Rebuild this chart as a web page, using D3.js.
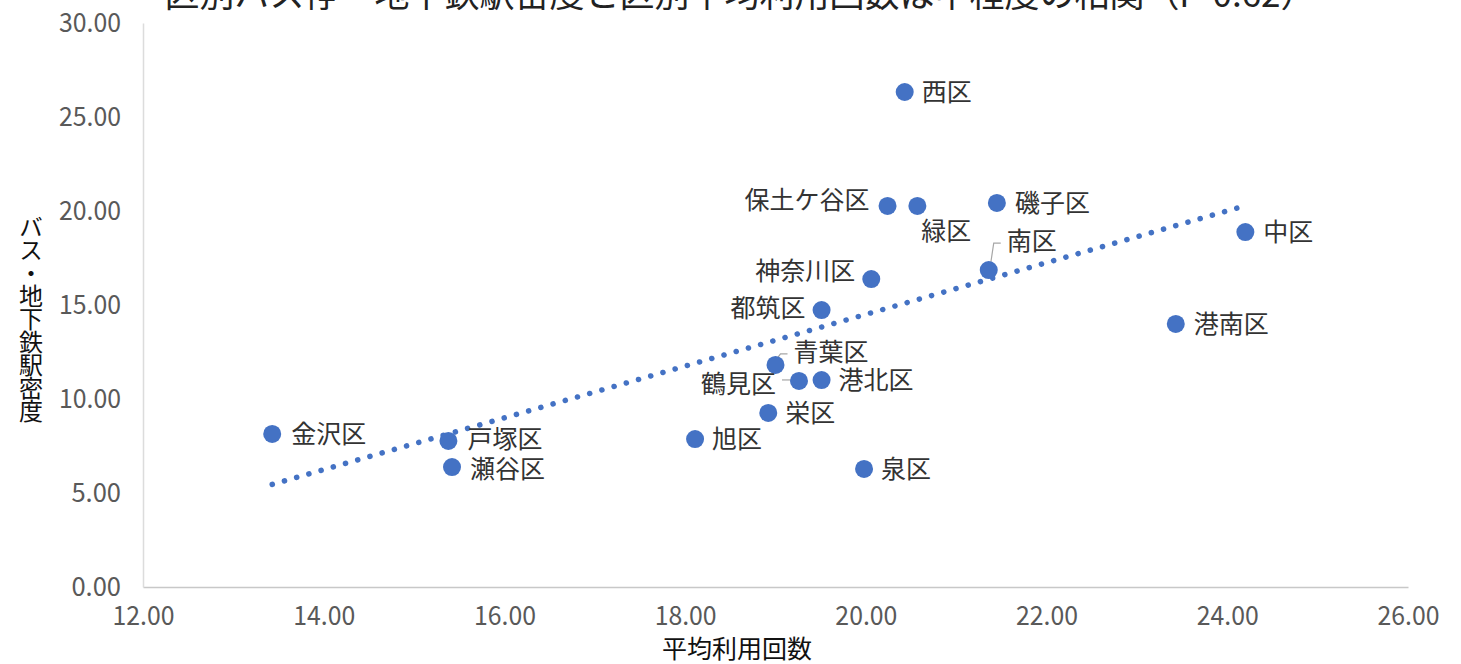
<!DOCTYPE html>
<html>
<head>
<meta charset="utf-8">
<script src="https://cdn.jsdelivr.net/npm/d3@7"></script>
<style>
  body { margin: 0; background: #fff; }
  text { font-family: "Noto Sans CJK JP", sans-serif; }
</style>
</head>
<body>
<div id="chart"></div>
<script>
// data
const districts = ["金沢区", "戸塚区", "瀬谷区", "旭区", "栄区", "鶴見区", "港北区", "青葉区", "都筑区",
  "神奈川区", "泉区", "保土ケ谷区", "緑区", "西区", "磯子区", "南区", "港南区", "中区"]
const avgUsage = [13.43, 15.38, 15.42, 18.11, 18.92, 19.26, 19.51, 19.00, 19.51,
  20.06, 19.98, 20.24, 20.57, 20.43, 21.45, 21.36, 23.43, 24.20]
const density = [8.14, 7.77, 6.38, 7.87, 9.26, 10.96, 11.01, 11.81, 14.73,
  16.38, 6.28, 20.27, 20.27, 26.33, 20.43, 16.86, 13.99, 18.88]
const xTicks = [12, 14, 16, 18, 20, 22, 24, 26]
const yTicks = [0, 5, 10, 15, 20, 25, 30]
const title = "区別バス停・地下鉄駅密度と区別平均利用回数は中程度の相関（r=0.62）"

// label placement (dx, dy, anchor, leader)
const labelPos = {
  "西区": [17, 0, "start"], "保土ケ谷区": [-18, -6, "end"], "緑区": [4, 25, "start"],
  "磯子区": [18, 0, "start"], "南区": [18, -29, "start", true], "中区": [18, 0, "start"],
  "神奈川区": [-16, -8, "end"], "都筑区": [-16, -2, "end"], "港南区": [18, 0, "start"],
  "青葉区": [18, -13, "start", true], "鶴見区": [-23, 3, "end", true], "港北区": [17, 0, "start"],
  "栄区": [17, 0, "start"], "旭区": [17, 0, "start"], "金沢区": [19, 0, "start"],
  "戸塚区": [19, -2, "start"], "瀬谷区": [18, 2, "start"], "泉区": [17, 0, "start"]
}

const width = 1461, height = 664
const x = d3.scaleLinear().domain([12, 26]).range([143, 1408])
const y = d3.scaleLinear().domain([0, 30]).range([587, 23])

const svg = d3.select("#chart").append("svg")
  .attr("width", width).attr("height", height)

const data = districts.map((d, i) => ({ name: d, x: avgUsage[i], y: density[i] }))

// title (cropped at top in the original)
svg.append("text")
  .attr("x", 740).attr("y", 7)
  .attr("text-anchor", "middle")
  .attr("font-size", 35).attr("fill", "#222")
  .text(title)

// axes
const fmt = d3.format(".2f")
const tickFont = "'Noto Sans', sans-serif"
const xAxis = svg.append("g")
  .attr("transform", `translate(0,${y(0)})`)
  .call(d3.axisBottom(x).tickValues(xTicks).tickSize(0).tickFormat(fmt))
xAxis.select(".domain").attr("stroke", "#c8c8c8").attr("stroke-width", 1.5)
xAxis.selectAll("text")
  .attr("dy", 35).attr("font-size", 26).attr("fill", "#595959")
  .attr("font-family", tickFont)
  .attr("textLength", d => fmt(d).length * 12.4).attr("lengthAdjust", "spacingAndGlyphs")

const yAxis = svg.append("g")
  .attr("transform", `translate(${x(12)},0)`)
  .call(d3.axisLeft(y).tickValues(yTicks).tickSize(0).tickFormat(fmt))
yAxis.select(".domain").attr("stroke", "#dcdcdc").attr("stroke-width", 1.5)
yAxis.selectAll("text")
  .attr("x", -22).attr("font-size", 26).attr("fill", "#595959")
  .attr("font-family", tickFont)
  .attr("textLength", d => fmt(d).length * 12.4).attr("lengthAdjust", "spacingAndGlyphs")

// axis titles
svg.append("text")
  .attr("x", 737).attr("y", 658)
  .attr("text-anchor", "middle").attr("font-size", 25).attr("fill", "#111")
  .text("平均利用回数")

svg.append("text")
  .attr("x", 31).attr("y", 318)
  .attr("text-anchor", "middle").attr("font-size", 24).attr("fill", "#111")
  .style("writing-mode", "vertical-rl")
  .style("text-orientation", "upright")
  .style("letter-spacing", "-1px")
  .text("バス・地下鉄駅密度")

// linear trendline (least squares)
const mx = d3.mean(avgUsage), my = d3.mean(density)
const slope = d3.sum(data, d => (d.x - mx) * (d.y - my)) / d3.sum(data, d => (d.x - mx) ** 2)
const intercept = my - slope * mx
const [x0, x1] = d3.extent(avgUsage)
svg.append("path")
  .attr("d", d3.line()([[x(x0), y(intercept + slope * x0)], [x(x1), y(intercept + slope * x1)]]))
  .attr("stroke", "#4472c4").attr("stroke-width", 5.5)
  .attr("stroke-linecap", "round").attr("stroke-dasharray", "0.1 12.6")
  .attr("fill", "none")

// leader lines
svg.selectAll(".leader")
  .data(data.filter(d => labelPos[d.name][3]))
  .enter().append("path")
    .attr("class", "leader")
    .attr("d", d => {
      const px = x(d.x), py = y(d.y), p = labelPos[d.name]
      if (p[2] === "end") return `M${px - 8},${py - 1}L${px + p[0] + 6},${py - 1}`
      return `M${px + 2},${py - 7}L${px + 5},${py + p[1] + 2}L${px + p[0] - 6},${py + p[1] + 2}`
    })
    .attr("stroke", "#a6a6a6").attr("stroke-width", 1.2).attr("fill", "none")

// points
svg.selectAll("circle")
  .data(data)
  .enter().append("circle")
    .attr("cx", d => x(d.x))
    .attr("cy", d => y(d.y))
    .attr("r", 9)
    .attr("fill", "#4472c4")

// labels
svg.selectAll(".label")
  .data(data)
  .enter().append("text")
    .attr("class", "label")
    .attr("x", d => x(d.x) + labelPos[d.name][0])
    .attr("y", d => y(d.y) + labelPos[d.name][1])
    .attr("dy", "0.35em")
    .attr("text-anchor", d => labelPos[d.name][2])
    .attr("font-size", 25).attr("fill", "#333")
    .text(d => d.name)
</script>
</body>
</html>
